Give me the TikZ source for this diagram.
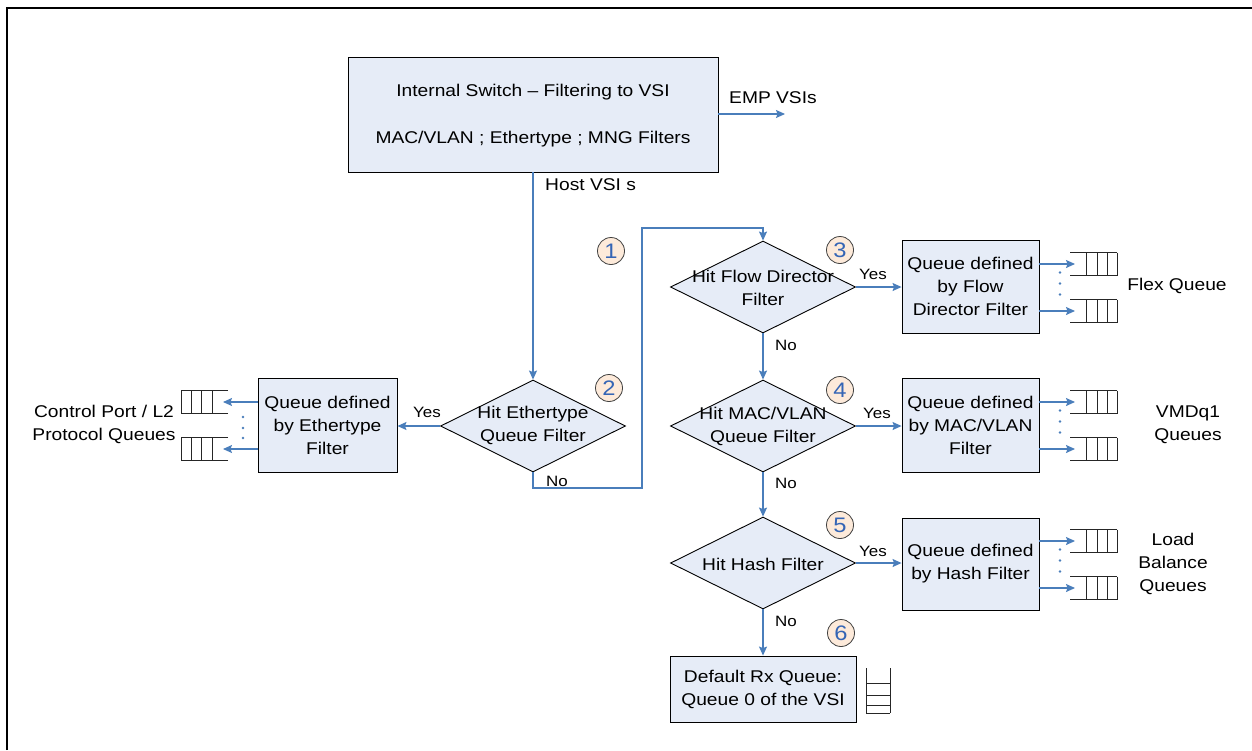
\documentclass[tikz,border=0pt]{standalone}
\usepackage{fontspec}
\setmainfont[FakeStretch=1.13]{Liberation Sans}
\usetikzlibrary{arrows.meta,shapes.geometric}
\definecolor{ln}{HTML}{4A7EBB}
\definecolor{bx}{HTML}{E6ECF7}
\definecolor{cf}{HTML}{FDEADA}
\definecolor{cn}{HTML}{3565B5}
\begin{document}
\begin{tikzpicture}[x=1pt,y=-1pt,
  box/.style={draw=black, line width=0.9pt, fill=bx, align=center, inner sep=0, font=\fontsize{17}{23}\selectfont},
  dia/.style={diamond, draw=black, fill=bx, line width=0.9pt, inner sep=0, minimum width=185, minimum height=92},
  flow/.style={draw=ln, line width=1.1pt},
  arr/.style={flow, -{Stealth[length=9pt,width=8pt,inset=1.5pt]}},
  lab/.style={font=\fontsize{15}{18}\selectfont, inner sep=0},
  num/.style={circle, draw=black!75, line width=0.8pt, fill=cf, minimum size=27, inner sep=0, text=cn, font=\fontsize{21}{21}\selectfont},
  txt/.style={align=center, inner sep=0, font=\fontsize{17}{23}\selectfont},
  qline/.style={line width=1pt, draw=black!85},
  qin/.pic={
    \draw[qline] (0,-11.5) -- (47,-11.5) (0,11.5) -- (47,11.5);
    \foreach \x in {16,27,37,47} \draw[qline] (\x,-11.5) -- (\x,11.5);
  },
  qdot/.style={fill=ln, draw=none, circle, inner sep=0, minimum size=2.6},
]
\useasboundingbox (0,0) rectangle (1252,750);
% frame
\draw[line width=2pt] (7,750) -- (7,8) -- (1252,8);

% top box
\node[box, minimum width=370, minimum height=115] (top) at (533,114.5) {};
\node[txt] (toptxt) at (533,116)
  {Internal Switch -- Filtering to VSI\\[24pt]MAC/VLAN ; Ethertype ; MNG Filters};
\coordinate (emp) at (785,114);
\draw[arr] (top.east |- emp) -- (emp);
\node[txt, anchor=west] (emplab) at (729,98) {EMP VSIs};
\node[txt, anchor=west] (hostlab) at (545,185) {Host VSI s};

% diamonds
\node[dia] (ediam) at (533,426) {};
\node[txt] (ediamt) at (533,425) {Hit Ethertype\\Queue Filter};
\node[dia] (fdiam) at (763,287) {};
\node[txt] (fdiamt) at (763,288) {Hit Flow Director\\Filter};
\node[dia] (mdiam) at (763,426) {};
\node[txt] (mdiamt) at (763,426) {Hit MAC/VLAN\\Queue Filter};
\node[dia] (hdiam) at (763,563) {};
\node[txt] (hdiamt) at (763,564) {Hit Hash Filter};

% boxes
\node[box, minimum width=139, minimum height=94] (ebox) at (327.5,425) {Queue defined\\by Ethertype\\Filter};
\node[box, minimum width=137, minimum height=93] (fbox) at (970.5,286.5) {Queue defined\\by Flow\\Director Filter};
\node[box, minimum width=137, minimum height=94] (mbox) at (970.5,425) {Queue defined\\by MAC/VLAN\\Filter};
\node[box, minimum width=137, minimum height=92] (hbox) at (970.5,564) {Queue defined\\by Hash Filter};
\node[box, minimum width=186, minimum height=66] (dbox) at (763,689) {Default Rx Queue:\\Queue 0 of the VSI};

% main flow
\draw[arr] (top.south) -- (ediam.north);
\coordinate (r1) at (533,488);
\coordinate (r2) at (642,488);
\coordinate (r3) at (642,228);
\draw[arr] (ediam.south) -- (r1) -- (r2) -- (r3) -- (fdiam.north |- r3) -- (fdiam.north);
\node[lab, anchor=west] (no0) at (546,481) {No};

\draw[arr] (ediam.west) -- (ebox.east |- ediam.west);
\node[lab] (yes0) at (427,412) {Yes};
\draw[arr] (fdiam.east) -- (fbox.west |- fdiam.east);
\node[lab] (yes1) at (873,274) {Yes};
\draw[arr] (mdiam.east) -- (mbox.west |- mdiam.east);
\node[lab] (yes2) at (877,413) {Yes};
\draw[arr] (hdiam.east) -- (hbox.west |- hdiam.east);
\node[lab] (yes3) at (873,551) {Yes};

\draw[arr] (fdiam.south) -- (mdiam.north);
\node[lab, anchor=west] (no1) at (775,345) {No};
\draw[arr] (mdiam.south) -- (hdiam.north);
\node[lab, anchor=west] (no2) at (775,483) {No};
\draw[arr] (hdiam.south) -- (dbox.north);
\node[lab, anchor=west] (no3) at (775,621) {No};

% number circles
\node[num] (c1) at (611,251) {1};
\node[num] (c2) at (609,388) {2};
\node[num] (c3) at (840,250) {3};
\node[num] (c4) at (840,390) {4};
\node[num] (c5) at (840,525) {5};
\node[num] (c6) at (841,633) {6};

% left queues
\coordinate (lq1) at (223,402);
\coordinate (lq2) at (223,449);
\pic[xscale=-1] at (228,402) {qin};
\pic[xscale=-1] at (228,449) {qin};
\draw[arr] (ebox.west |- lq1) -- (lq1);
\draw[arr] (ebox.west |- lq2) -- (lq2);
\foreach \y in {417,428,438} \node[qdot] at (243,\y) {};
\node[txt] (lqt) at (104,424) {Control Port / L2\\Protocol Queues};

% right queues
\foreach \n/\b/\ya/\yb in {f/fbox/264/311, m/mbox/402/449, h/hbox/541/588}{
  \coordinate (\n q1) at (1075,\ya);
  \coordinate (\n q2) at (1075,\yb);
  \pic at (1070,\ya) {qin};
  \pic at (1070,\yb) {qin};
  \draw[arr] (\b.east |- \n q1) -- (\n q1);
  \draw[arr] (\b.east |- \n q2) -- (\n q2);
  \pgfmathsetmacro\ym{(\ya+\yb)/2}
  \foreach \d in {-15,-4,7} \node[qdot] at (1060,\ym+\d) {};
}
\node[txt] (fqt) at (1177,286) {Flex Queue};
\node[txt] (mqt) at (1188,425) {VMDq1\\Queues};
\node[txt] (hqt) at (1173,564) {Load\\Balance\\Queues};

% default queue (vertical)
\draw[qline] (866,668) -- (866,713) (890,668) -- (890,713);
\foreach \y in {683,695,705,713} \draw[qline] (866,\y) -- (890,\y);
\end{tikzpicture}
\end{document}
